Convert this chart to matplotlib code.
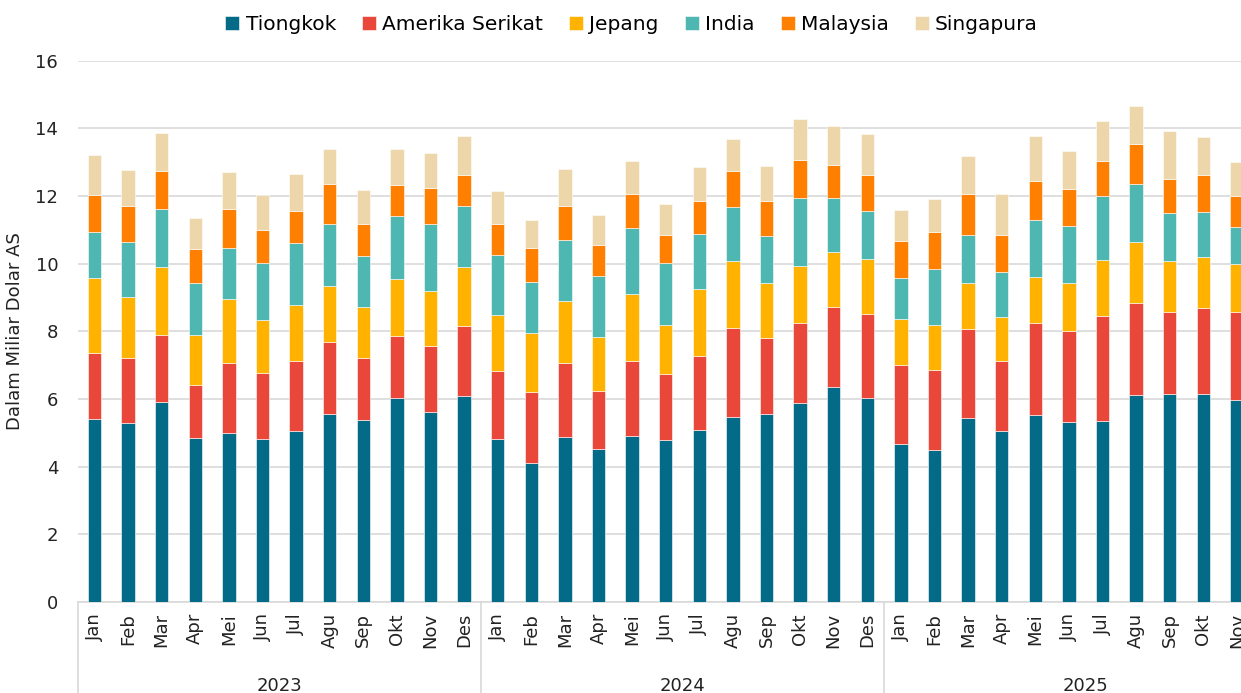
import matplotlib
matplotlib.use("Agg")
import matplotlib.pyplot as plt
import matplotlib.transforms as mtransforms
import numpy as np

months = ["Jan", "Feb", "Mar", "Apr", "Mei", "Jun", "Jul", "Agu", "Sep", "Okt", "Nov", "Des"]
years = ["2023", "2024", "2025"]
month_labels = months * 2 + months[:11]

tiongkok = [5.42, 5.28, 5.90, 4.84, 4.99, 4.81, 5.06, 5.55, 5.37, 6.03, 5.63, 6.10,
            4.83, 4.11, 4.88, 4.51, 4.91, 4.80, 5.09, 5.48, 5.57, 5.89, 6.36, 6.04,
            4.67, 4.49, 5.43, 5.06, 5.53, 5.32, 5.35, 6.11, 6.14, 6.14, 5.97]
amerika = [1.94, 1.92, 1.98, 1.58, 2.07, 1.97, 2.05, 2.15, 1.85, 1.82, 1.94, 2.07,
           2.01, 2.11, 2.20, 1.74, 2.20, 1.95, 2.17, 2.61, 2.22, 2.36, 2.37, 2.46,
           2.33, 2.37, 2.65, 2.06, 2.73, 2.69, 3.11, 2.73, 2.43, 2.55, 2.60]
jepang = [2.23, 1.83, 2.03, 1.48, 1.89, 1.55, 1.68, 1.64, 1.51, 1.70, 1.62, 1.73,
          1.65, 1.73, 1.82, 1.58, 2.00, 1.43, 1.98, 2.00, 1.65, 1.67, 1.62, 1.64,
          1.37, 1.32, 1.34, 1.31, 1.34, 1.41, 1.65, 1.80, 1.51, 1.52, 1.41]
india = [1.34, 1.61, 1.71, 1.53, 1.52, 1.69, 1.81, 1.84, 1.49, 1.85, 1.99, 1.81,
         1.78, 1.52, 1.80, 1.81, 1.94, 1.84, 1.64, 1.59, 1.39, 2.02, 1.59, 1.42,
         1.21, 1.67, 1.42, 1.33, 1.70, 1.70, 1.89, 1.71, 1.43, 1.31, 1.11]
malaysia = [1.11, 1.06, 1.12, 1.01, 1.16, 0.98, 0.97, 1.18, 0.96, 0.94, 1.05, 0.90,
            0.91, 1.00, 1.02, 0.92, 1.02, 0.82, 0.98, 1.06, 1.02, 1.12, 0.99, 1.05,
            1.08, 1.09, 1.22, 1.10, 1.16, 1.08, 1.03, 1.20, 1.00, 1.11, 0.91]
singapura = [1.16, 1.07, 1.12, 0.92, 1.07, 1.04, 1.07, 1.02, 1.01, 1.04, 1.03, 1.17,
             0.96, 0.83, 1.09, 0.89, 0.97, 0.92, 1.01, 0.96, 1.04, 1.23, 1.13, 1.22,
             0.92, 0.97, 1.13, 1.19, 1.31, 1.12, 1.20, 1.11, 1.41, 1.11, 1.01]

series_names = ["Tiongkok", "Amerika Serikat", "Jepang", "India", "Malaysia", "Singapura"]
series_values = [tiongkok, amerika, jepang, india, malaysia, singapura]
colors = ["#036B88", "#E8473A", "#FFB300", "#4FB7B2", "#FF7F00", "#EDD6AA"]

plt.rcParams['font.family'] = ['DejaVu Sans']

fig = plt.figure(figsize=(12.41, 6.93), dpi=100)
ax = fig.add_axes([0.0626, 0.1313, 0.9477, 0.781])

x = np.arange(len(month_labels))
bottom = np.zeros(len(x))
handles = []
for name, vals, c in zip(series_names, series_values, colors):
    v = np.array(vals)
    b = ax.bar(x, v, bottom=bottom, width=0.4, color=c, edgecolor="white",
               linewidth=0.4, label=name, zorder=3)
    handles.append(b)
    bottom += v

ax.set_xlim(-0.5, len(x) - 0.5)
ax.set_ylim(0, 16)
ax.set_yticks(np.arange(0, 17, 2))
ax.yaxis.grid(True, color="#D9D9D9", linewidth=1.2, zorder=0)
ax.set_axisbelow(True)
for s in ["top", "right", "left"]:
    ax.spines[s].set_visible(False)
ax.spines["bottom"].set_color("#D9D9D9")
ax.spines["bottom"].set_linewidth(1.2)

ax.set_xticks(x)
ax.set_xticklabels(month_labels, rotation=90, fontsize=13, color="#222222")
ax.tick_params(axis="x", length=0, pad=8)
ax.tick_params(axis="y", length=0, labelsize=13, labelcolor="#222222", pad=14)
ax.set_ylabel("Dalam Miliar Dolar AS", fontsize=13, color="#222222", labelpad=8)

trans = mtransforms.blended_transform_factory(ax.transData, ax.transAxes)
for i, yr in enumerate(years):
    start = i * 12 - 0.5
    ax.plot([start, start], [0, -0.17], transform=trans, color="#D9D9D9",
            linewidth=1.2, clip_on=False)
    center = i * 12 + 5.5
    ax.text(center, -0.155, yr, transform=trans, ha="center", va="center",
            fontsize=13, color="#222222")

fig.legend(handles, series_names, loc="upper center", bbox_to_anchor=(0.509, 1.005),
           ncol=6, frameon=False, fontsize=14.5, handlelength=0.7, handleheight=0.7,
           handletextpad=0.3, columnspacing=1.3)

fig.savefig("out.png", dpi=100)
